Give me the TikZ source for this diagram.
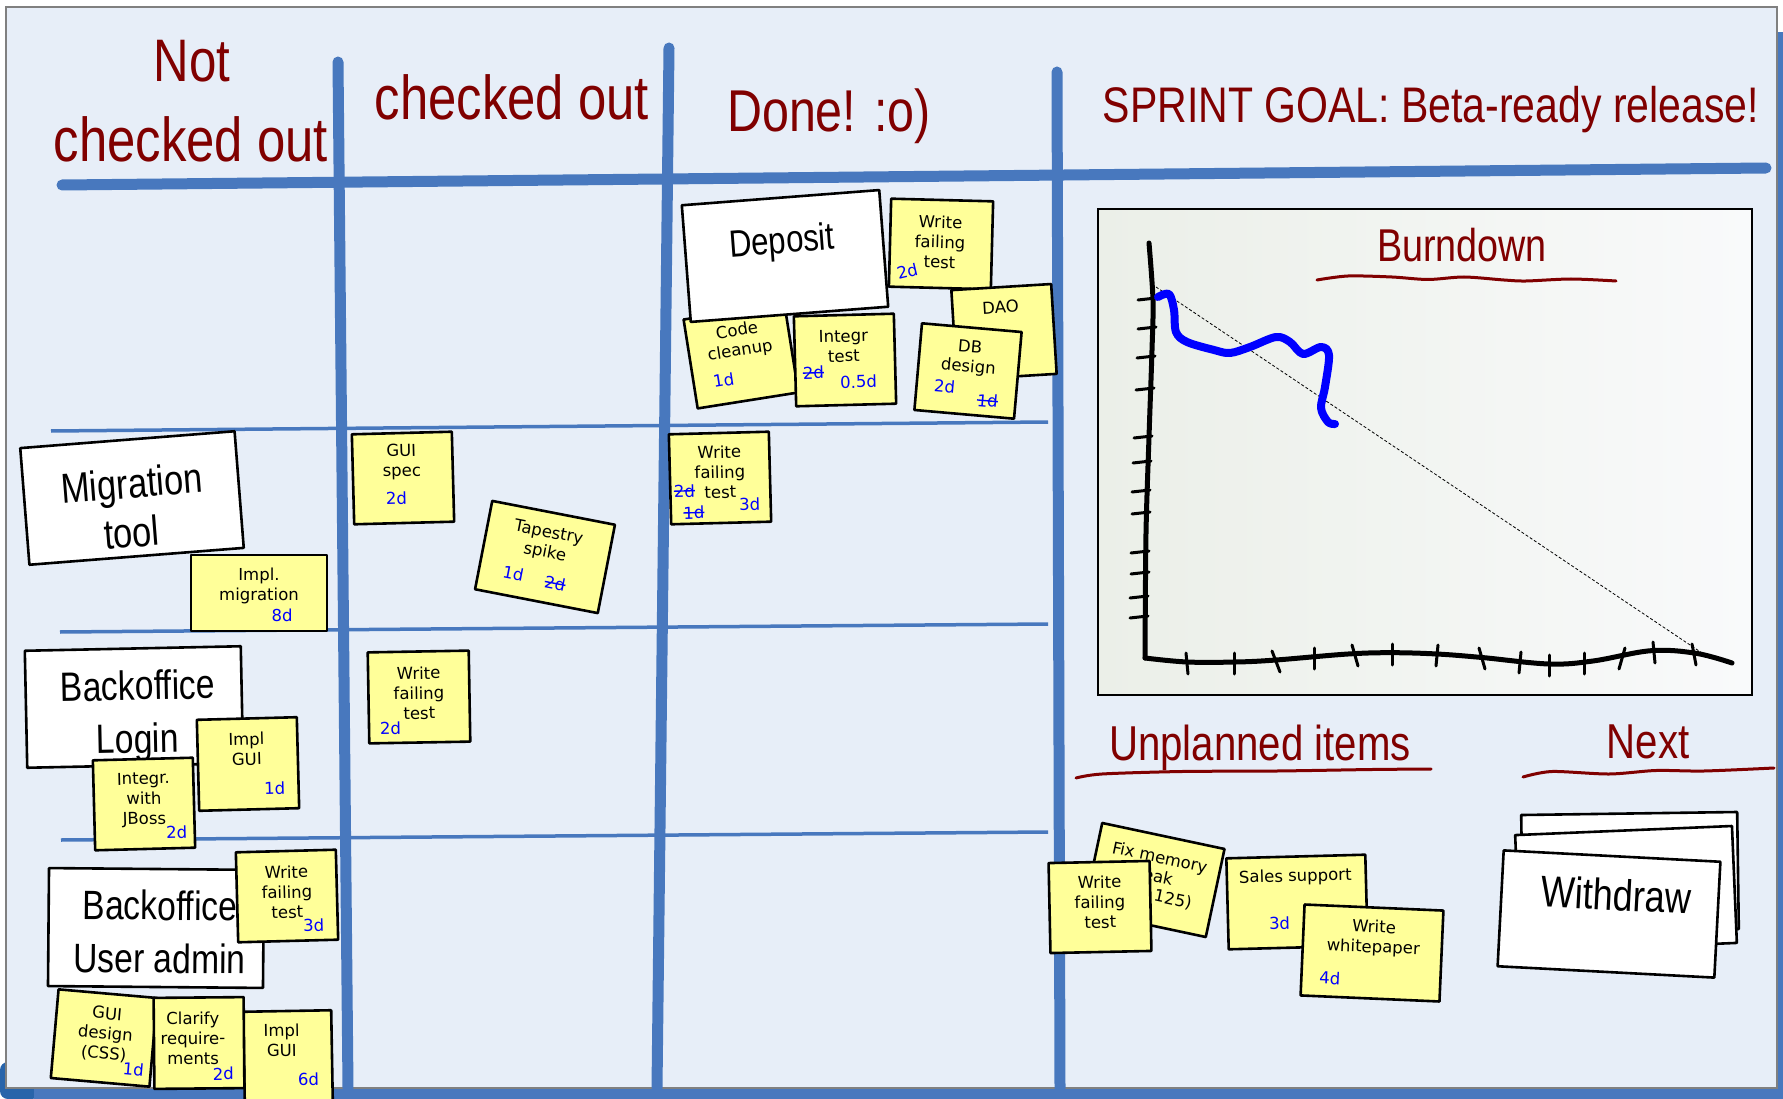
\documentclass[tikz,border=0pt]{standalone}
\usepackage{fontspec}
\newfontfamily\hfont[FakeStretch=0.82]{Liberation Sans}
\newfontfamily\nfont{DejaVu Sans}
\definecolor{boardbg}{RGB}{231,238,248}
\definecolor{gridblue}{RGB}{72,120,190}
\definecolor{cornerblue}{RGB}{40,100,170}
\definecolor{headred}{RGB}{128,0,0}
\definecolor{noteyellow}{RGB}{255,255,153}
\definecolor{estblue}{RGB}{0,0,255}
\definecolor{chartleft}{RGB}{235,239,232}
\definecolor{chartright}{RGB}{249,250,251}
% struck-out estimate
\newcommand\strk[1]{{\setbox0=\hbox{#1}\rlap{\rule[0.33em]{\wd0}{1.4pt}}\box0}}
\tikzset{
  gridthick/.style={draw=gridblue, line width=11pt, line cap=round},
  gridthin/.style={draw=gridblue, line width=3.5pt},
  note/.style={draw=black, line width=2.6pt, fill=noteyellow, inner sep=0pt, line join=round},
  card/.style={draw=black, line width=2.6pt, fill=white, inner sep=0pt, line join=round},
  ntext/.style={font=\nfont\fontsize{16.5}{20}\selectfont, align=center, inner sep=0pt},
  est/.style={font=\nfont\fontsize{16.5}{20}\selectfont, text=estblue, inner sep=0pt},
  ctext/.style={font=\hfont\fontsize{#1}{#1}\selectfont, anchor=base, inner sep=0pt},
  head/.style={font=\hfont\fontsize{#1}{#1}\selectfont, text=headred, anchor=base, inner sep=0pt},
  redline/.style={draw=headred, line width=3pt, line cap=round},
  axis/.style={draw=black, line width=5pt, line cap=round, line join=round},
  tick/.style={draw=black, line width=3pt, line cap=round},
}
\begin{document}
\begin{tikzpicture}[x=1pt,y=-1pt]
\useasboundingbox (0,0) rectangle (1783,1099);
\fill[white] (0,0) rectangle (1783,1099);

% board frame and its blue edge
\fill[cornerblue, rounded corners=8pt] (0,1062) rectangle (40,1099);
\fill[gridblue] (34,1088) rectangle (1783,1099);
\fill[gridblue] (1777,32) rectangle (1783,1099);
\filldraw[fill=boardbg, draw=gray, line width=1.5pt] (6,7) rectangle (1777,1088);

% column and row lines
\draw[gridthin] (51,431) -- (1048,422);
\draw[gridthin] (60,632) -- (1048,624);
\draw[gridthin] (61,840) -- (1048,832);
\draw[gridthick] (62,185) -- (1766,168);
\draw[gridthick] (338,62) -- (348,1088);
\draw[gridthick] (669,48) -- (657,1088);
\draw[gridthick] (1057,72) -- (1060,1088);

% column headings
\node[head=60] (hNot) at (192,82) {Not};
\node[head=62] (hNotCo) at (191,162) {checked out};
\node[head=62] (hCo) at (512,120) {checked out};
\node[head=59] (hDone) at (829,132) {Done! :o)};
\node[head=50] (hGoal) at (1431,123) {SPRINT GOAL: Beta-ready release!};

% burndown chart
\shade[left color=chartleft, right color=chartright] (1098,209) rectangle (1752,695);
\draw[line width=2.5pt] (1098,209) rectangle (1752,695);
\node[head=46] (hBurn) at (1462,262) {Burndown};
\draw[redline] plot[smooth] coordinates {(1317,280) (1348,276) (1392,277) (1428,279.5) (1464,277) (1504,280) (1526,281) (1571,279) (1616,281)};
\draw[black, line width=0.8pt, dash pattern=on 3pt off 2pt] (1156,287) -- (1705,655);
\draw[axis] plot[smooth] coordinates {(1149,243) (1153,300) (1152,350) (1149,437) (1146,533) (1145,658)};
\draw[axis] plot[smooth, tension=0.6] coordinates {(1145,658) (1187,662) (1236,662) (1276,660) (1348,654) (1392,652.7) (1437,654) (1482,657.5) (1549,664) (1593,661) (1651,650.7) (1696,653.3) (1732,663)};
\foreach \ty/\tx in {299/1153,328/1153,357/1152,389/1151,437/1149,462/1148,491/1147,513/1147,552/1146,573/1146,597/1145,617/1145}
  \draw[tick] (\tx-15,\ty+1) -- (\tx+3,\ty-1);
\foreach \tx/\tyy/\sl in {1187/662/1,1234/662/0,1276/660/4,1314/657/0,1355/654/3,1392/653/0,1437/654/-1,1482/657/3,1520/661/-1,1549/664/0,1584/662/0,1622/657/-3,1654/651/1,1694/653/2}
  \draw[tick] (\tx-\sl,\tyy-9) -- (\tx+\sl,\tyy+12);
\draw[estblue, line width=8pt, line cap=round, line join=round] plot[smooth, tension=0.55] coordinates {(1158,297) (1169,294) (1174,310) (1176,332) (1187,342) (1214,350) (1230,353) (1250,347) (1276,337) (1290,342) (1303,354) (1321,347) (1329,355) (1325,387) (1321,408) (1328,422) (1335,424)};

% unplanned and next headings
\node[head=49] (hUnpl) at (1260,760) {Unplanned items};
\draw[redline] plot[smooth] coordinates {(1076,778) (1102,774) (1182,771.5) (1277,771) (1372,769.5) (1431,769)};
\node[head=49] (hNext) at (1648,758) {Next};
\draw[redline] plot[smooth] coordinates {(1523,777) (1552,771.5) (1609,774) (1656,770.5) (1704,771) (1774,768)};

% ---- Done column: Deposit story
\begin{scope}[shift={(741,356)}, rotate=9, transform shape]
  \node[note, minimum width=102pt, minimum height=90pt] (cc) {};
  \node[ntext] (cct) at (0,-15) {Code\\cleanup};
  \node[est] (cce) at (-21,21) {1d};
\end{scope}
\begin{scope}[shift={(785,256)}, rotate=4.4, transform shape]
  \node[card, minimum width=198pt, minimum height=117pt] (dep) {};
  \node[ctext=38] (dept) at (-2,-3) {Deposit};
\end{scope}
\begin{scope}[shift={(941,244)}, rotate=-1.5, transform shape]
  \node[note, minimum width=102pt, minimum height=88pt] (wfa) {};
  \node[ntext] (wfat) at (-1,-2) {Write\\failing\\test};
  \node[est, rotate=15] (wfae) at (-33,28) {2d};
\end{scope}
\begin{scope}[shift={(845,360)}, rotate=1.5, transform shape]
  \node[note, minimum width=100pt, minimum height=90pt] (it) {};
  \node[ntext] (itt) at (-1,-14) {Integr\\test};
  \node[est] (ite1) at (-32,12) {\strk{2d}};
  \node[est] (ite2) at (13,22) {0.5d};
\end{scope}
\begin{scope}[shift={(1004,332)}, rotate=3.5, transform shape]
  \node[note, minimum width=100pt, minimum height=90pt] (dao) {};
  \node[ntext] (daot) at (-2,-25) {DAO};
\end{scope}
\begin{scope}[shift={(968,371)}, rotate=-5, transform shape]
  \node[note, minimum width=100pt, minimum height=87pt] (db) {};
  \node[ntext] (dbt) at (0,-13) {DB\\design};
  \node[est] (dbe1) at (-22,17) {2d};
  \node[est] (dbe2) at (22,28) {\strk{1d}};
\end{scope}
\begin{scope}[shift={(720,478)}, rotate=1.5, transform shape]
  \node[note, minimum width=100pt, minimum height=90pt] (wfb) {};
  \node[ntext] (wfbt) at (0,-6) {Write\\failing\\test};
  \node[est] (wfbe1) at (-36,12) {\strk{2d}};
  \node[est] (wfbe2) at (-27,34) {\strk{1d}};
  \node[est] (wfbe3) at (29,27) {3d};
\end{scope}

% ---- Checked out column
\begin{scope}[shift={(403,478)}, rotate=1.5, transform shape]
  \node[note, minimum width=100pt, minimum height=90pt] (gs) {};
  \node[ntext] (gst) at (-1,-16) {GUI\\spec};
  \node[est] (gse) at (-7,20) {2d};
\end{scope}
\begin{scope}[shift={(545,557)}, rotate=-11, transform shape]
  \node[note, minimum width=125pt, minimum height=90pt] (ts) {};
  \node[ntext] (tst) at (-1,-14) {Tapestry\\spike};
  \node[est] (tse1) at (-28,22) {1d};
  \node[est] (tse2) at (15,24) {\strk{2d}};
\end{scope}
\begin{scope}[shift={(419,697)}, rotate=1, transform shape]
  \node[note, minimum width=101pt, minimum height=91pt] (wfc) {};
  \node[ntext] (wfct) at (0,-4) {Write\\failing\\test};
  \node[est] (wfce) at (-29,31) {2d};
\end{scope}

% ---- Not checked out column
\begin{scope}[shift={(132,498)}, rotate=4.5, transform shape]
  \node[card, minimum width=215pt, minimum height=117pt] (mig) {};
  \node[ctext=42] (migt1) at (1,0) {Migration};
  \node[ctext=42] (migt2) at (-3,49) {tool};
\end{scope}
\begin{scope}[shift={(259,593)}, transform shape]
  \node[note, minimum width=136pt, minimum height=76pt] (im) {};
  \node[ntext] (imt) at (0,-7) {Impl.\\migration};
  \node[est] (ime) at (23,22) {8d};
\end{scope}
\begin{scope}[shift={(134,707)}, rotate=1.2, transform shape]
  \node[card, minimum width=216pt, minimum height=117pt] (bol) {};
  \node[ctext=41] (bolt1) at (4,-7) {Backoffice};
  \node[ctext=41] (bolt2) at (3,46) {Login};
\end{scope}
\begin{scope}[shift={(248,764)}, rotate=1.5, transform shape]
  \node[note, minimum width=100pt, minimum height=91pt] (ig1) {};
  \node[ntext] (ig1t) at (-1,-15) {Impl\\GUI};
  \node[est] (ig1e) at (26,25) {1d};
\end{scope}
\begin{scope}[shift={(144,804)}, rotate=1.5, transform shape]
  \node[note, minimum width=100pt, minimum height=90pt] (ij) {};
  \node[ntext] (ijt) at (0,-4) {Integr.\\with\\JBoss};
  \node[est] (ije) at (32,29) {2d};
\end{scope}
\begin{scope}[shift={(156,928)}, rotate=-0.5, transform shape]
  \node[card, minimum width=215pt, minimum height=118pt] (bou) {};
  \node[ctext=41] (bout1) at (4,-8) {Backoffice};
  \node[ctext=41] (bout2) at (4,45) {User admin};
\end{scope}
\begin{scope}[shift={(287,896)}, rotate=1.5, transform shape]
  \node[note, minimum width=100pt, minimum height=90pt] (wfd) {};
  \node[ntext] (wfdt) at (0,-4) {Write\\failing\\test};
  \node[est] (wfde) at (26,30) {3d};
\end{scope}
\begin{scope}[shift={(104,1038)}, rotate=-5, transform shape]
  \node[note, minimum width=99pt, minimum height=89pt] (gd) {};
  \node[ntext] (gdt) at (1,-4) {GUI\\design\\(CSS)};
  \node[est] (gde) at (32,29) {1d};
\end{scope}
\begin{scope}[shift={(288,1057)}, rotate=1, transform shape]
  \node[note, minimum width=88pt, minimum height=92pt] (ig2) {};
  \node[ntext] (ig2t) at (-6,-17) {Impl\\GUI};
  \node[est] (ig2e) at (20,23) {6d};
\end{scope}
\begin{scope}[shift={(199,1043)}, rotate=0.5, transform shape]
  \node[note, minimum width=90pt, minimum height=91pt] (cr) {};
  \node[ntext] (crt) at (-6,-5) {Clarify\\require-\\ments};
  \node[est] (cre) at (24,31) {2d};
\end{scope}

% ---- Unplanned items
\begin{scope}[shift={(1154,880)}, rotate=-12, transform shape]
  \node[note, minimum width=125pt, minimum height=90pt] (fm) {};
  \node[ntext, font=\nfont\fontsize{16.5}{19}\selectfont] (fmt) at (1,-3) {Fix memory\\leak\\(bug 125)};
\end{scope}
\begin{scope}[shift={(1100,907)}, rotate=1.2, transform shape]
  \node[note, minimum width=101pt, minimum height=90pt] (wfe) {};
  \node[ntext] (wfet) at (0,-5) {Write\\failing\\test};
\end{scope}
\begin{scope}[shift={(1297,902)}, rotate=1.5, transform shape]
  \node[note, minimum width=139pt, minimum height=91pt] (ss) {};
  \node[ntext] (sst) at (-1,-25) {Sales support};
  \node[est] (sse) at (-18,21) {3d};
\end{scope}
\begin{scope}[shift={(1372,953)}, rotate=-2.5, transform shape]
  \node[note, minimum width=139pt, minimum height=91pt] (ww) {};
  \node[ntext] (wwt) at (1,-15) {Write\\whitepaper};
  \node[est] (wwe) at (-41,27) {4d};
\end{scope}

% ---- Next stack
\begin{scope}[shift={(1630,872)}, rotate=0.8, transform shape]
  \node[card, minimum width=216pt, minimum height=117pt] (nx1) {};
\end{scope}
\begin{scope}[shift={(1626,889)}, rotate=2.4, transform shape]
  \node[card, minimum width=217pt, minimum height=117pt] (nx2) {};
\end{scope}
\begin{scope}[shift={(1609,914)}, rotate=-3, transform shape]
  \node[card, minimum width=217pt, minimum height=116pt] (nx3) {};
  \node[ctext=44] (nx3t) at (6,-4) {Withdraw};
\end{scope}
\end{tikzpicture}
\end{document}
